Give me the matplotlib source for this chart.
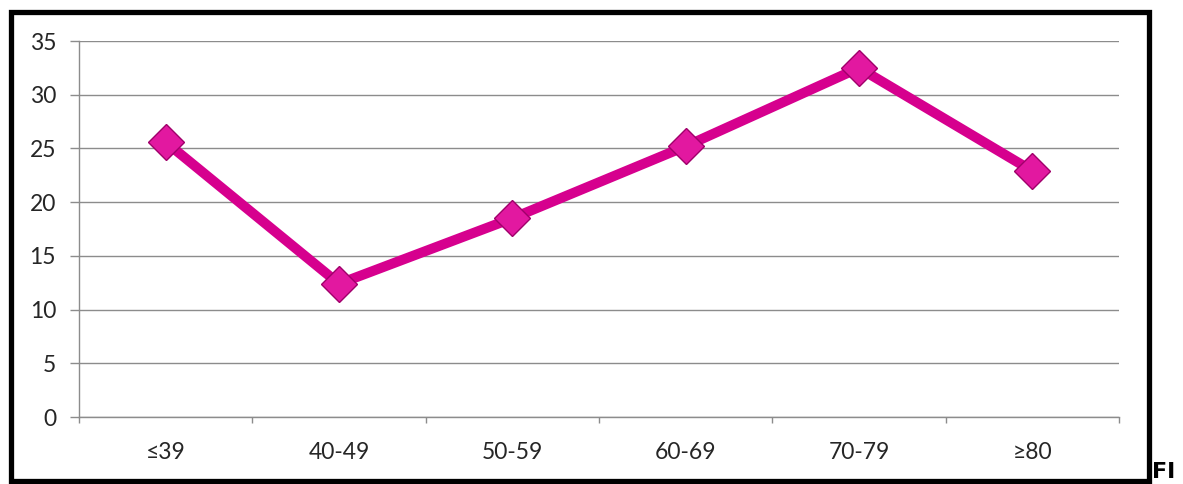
import matplotlib
matplotlib.use('Agg')
import matplotlib.pyplot as plt
from matplotlib.patches import Rectangle

# Age groups and values
groups = ['≤39', '40-49', '50-59', '60-69', '70-79', '≥80']
values = [25.6, 12.4, 18.5, 25.2, 32.5, 22.9]
yticks = [0, 5, 10, 15, 20, 25, 30, 35]

W, H = 1183, 484
plt.rcParams['font.family'] = ['Lato', 'DejaVu Sans']

fig = plt.figure(figsize=(W / 100, H / 100), dpi=100)
ax = fig.add_axes([79 / W, (H - 417) / H, (1119 - 79) / W, (417 - 41) / H])

x = list(range(len(groups)))
ax.plot(x, values, color='#D6008E', lw=7.2, zorder=3, solid_capstyle='round')
ax.plot(x, values, ls='none', marker='D', ms=18.5, mfc='#E218A0',
        mec='#A0006A', mew=1.0, zorder=4)

ax.set_xlim(-0.5, len(groups) - 0.5)
ax.set_ylim(0, 35)
ax.set_yticks(yticks)
ax.set_xticks(x)
ax.set_xticklabels(groups)
ax.set_xticks([i - 0.5 for i in range(len(groups) + 1)], minor=True)

ax.grid(axis='y', color='#8C8C8C', lw=1.0, zorder=0)
for s in ('top', 'right'):
    ax.spines[s].set_visible(False)
for s in ('left', 'bottom'):
    ax.spines[s].set_color('#8C8C8C')
    ax.spines[s].set_linewidth(1.0)

ax.tick_params(axis='y', length=6.5, width=1.0, color='#8C8C8C', pad=10,
               labelsize=16.5, labelcolor='#262626')
ax.tick_params(axis='x', which='major', length=0, pad=18,
               labelsize=16.5, labelcolor='#262626')
ax.tick_params(axis='x', which='minor', length=4.5, width=1.0,
               color='#8C8C8C')

# outer frame
fig.patches.append(Rectangle((10.5 / W, (H - 481) / H), (1149 - 10.5) / W,
                             (481 - 11.5) / H, transform=fig.transFigure,
                             fill=False, ec='black', lw=3.8))
fig.text(1152 / W, 2 / H, 'FI', fontsize=16, fontweight='bold',
         family='DejaVu Sans', ha='left', va='bottom')

fig.savefig('out.png', dpi=100)
